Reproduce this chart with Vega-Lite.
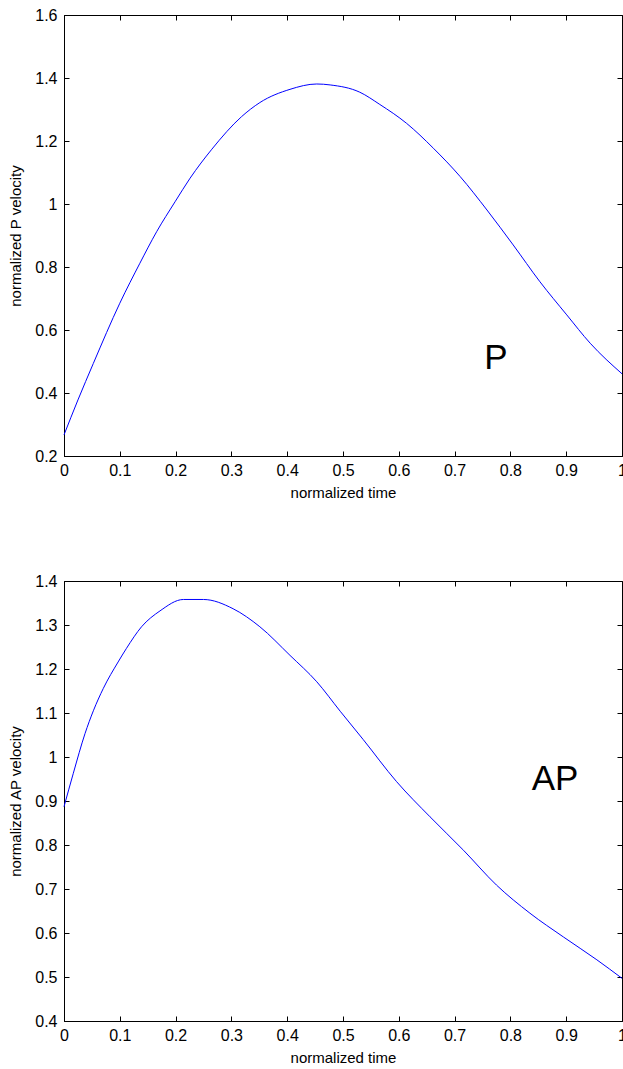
{
  "$schema": "https://vega.github.io/schema/vega-lite/v6.json",
  "background": "white",
  "padding": {"left": 8, "top": 6, "right": 0, "bottom": 0},
  "datasets": {
    "p": [
      {"t": 0, "v": 0.267}, {"t": 0.025, "v": 0.378}, {"t": 0.0526, "v": 0.494}, {"t": 0.1, "v": 0.685},
      {"t": 0.136, "v": 0.812}, {"t": 0.166, "v": 0.912}, {"t": 0.199, "v": 1.007}, {"t": 0.226, "v": 1.082},
      {"t": 0.265, "v": 1.174}, {"t": 0.318, "v": 1.277}, {"t": 0.351, "v": 1.322}, {"t": 0.405, "v": 1.364},
      {"t": 0.453, "v": 1.381}, {"t": 0.477, "v": 1.378}, {"t": 0.53, "v": 1.355}, {"t": 0.566, "v": 1.316},
      {"t": 0.614, "v": 1.256}, {"t": 0.662, "v": 1.177}, {"t": 0.71, "v": 1.087}, {"t": 0.758, "v": 0.981},
      {"t": 0.805, "v": 0.87}, {"t": 0.853, "v": 0.753}, {"t": 0.901, "v": 0.648}, {"t": 0.943, "v": 0.558},
      {"t": 1.0, "v": 0.461}
    ],
    "ap": [
      {"t": 0, "v": 0.887}, {"t": 0.0167, "v": 0.963}, {"t": 0.0376, "v": 1.053}, {"t": 0.0526, "v": 1.105},
      {"t": 0.0705, "v": 1.156}, {"t": 0.097, "v": 1.216}, {"t": 0.112, "v": 1.247}, {"t": 0.139, "v": 1.296},
      {"t": 0.172, "v": 1.332}, {"t": 0.214, "v": 1.358}, {"t": 0.25, "v": 1.358}, {"t": 0.303, "v": 1.337},
      {"t": 0.351, "v": 1.296}, {"t": 0.405, "v": 1.231}, {"t": 0.453, "v": 1.171}, {"t": 0.495, "v": 1.104},
      {"t": 0.536, "v": 1.04}, {"t": 0.596, "v": 0.944}, {"t": 0.656, "v": 0.864}, {"t": 0.716, "v": 0.788},
      {"t": 0.775, "v": 0.709}, {"t": 0.835, "v": 0.645}, {"t": 0.895, "v": 0.591}, {"t": 0.955, "v": 0.539},
      {"t": 1.0, "v": 0.497}
    ]
  },
  "spacing": 125,
  "bounds": "flush",
  "vconcat": [
    {
      "width": 558,
      "height": 441,
      "layer": [
        {
          "data": {"name": "p"},
          "mark": {"type": "line", "color": "#0000ff", "strokeWidth": 1, "interpolate": "monotone"},
          "encoding": {
            "x": {"field": "t", "type": "quantitative", "scale": {"domain": [0, 1], "nice": false},
                  "axis": {"orient": "bottom", "title": "normalized time", "titlePadding": 7, "labelPadding": 11, "values": [0, 0.1, 0.2, 0.3, 0.4, 0.5, 0.6, 0.7, 0.8, 0.9, 1], "format": "~g"}},
            "y": {"field": "v", "type": "quantitative", "scale": {"domain": [0.2, 1.6], "nice": false, "zero": false},
                  "axis": {"orient": "left", "title": "normalized P velocity", "titlePadding": 11, "labelPadding": 12, "values": [0.2, 0.4, 0.6, 0.8, 1, 1.2, 1.4, 1.6], "format": "~g"}}
          }
        },
        {
          "data": {"values": [{"t": 0.774, "v": 0.51, "label": "P"}]},
          "mark": {"type": "text", "font": "Liberation Sans", "fontSize": 35, "align": "center", "baseline": "middle", "color": "#000"},
          "encoding": {
            "x": {"field": "t", "type": "quantitative",
                  "axis": {"orient": "top", "title": null, "labels": false, "domain": false, "values": [0, 0.1, 0.2, 0.3, 0.4, 0.5, 0.6, 0.7, 0.8, 0.9, 1]}},
            "y": {"field": "v", "type": "quantitative",
                  "axis": {"orient": "right", "title": null, "labels": false, "domain": false, "values": [0.2, 0.4, 0.6, 0.8, 1, 1.2, 1.4, 1.6]}},
            "text": {"field": "label"}
          }
        }
      ],
      "resolve": {"axis": {"x": "independent", "y": "independent"}}
    },
    {
      "width": 558,
      "height": 440,
      "layer": [
        {
          "data": {"name": "ap"},
          "mark": {"type": "line", "color": "#0000ff", "strokeWidth": 1, "interpolate": "monotone"},
          "encoding": {
            "x": {"field": "t", "type": "quantitative", "scale": {"domain": [0, 1], "nice": false},
                  "axis": {"orient": "bottom", "title": "normalized time", "titlePadding": 7, "labelPadding": 11, "values": [0, 0.1, 0.2, 0.3, 0.4, 0.5, 0.6, 0.7, 0.8, 0.9, 1], "format": "~g"}},
            "y": {"field": "v", "type": "quantitative", "scale": {"domain": [0.4, 1.4], "nice": false, "zero": false},
                  "axis": {"orient": "left", "title": "normalized AP velocity", "titlePadding": 11, "labelPadding": 12, "values": [0.4, 0.5, 0.6, 0.7, 0.8, 0.9, 1, 1.1, 1.2, 1.3, 1.4], "format": "~g"}}
          }
        },
        {
          "data": {"values": [{"t": 0.88, "v": 0.95, "label": "AP"}]},
          "mark": {"type": "text", "font": "Liberation Sans", "fontSize": 35, "align": "center", "baseline": "middle", "color": "#000"},
          "encoding": {
            "x": {"field": "t", "type": "quantitative",
                  "axis": {"orient": "top", "title": null, "labels": false, "domain": false, "values": [0, 0.1, 0.2, 0.3, 0.4, 0.5, 0.6, 0.7, 0.8, 0.9, 1]}},
            "y": {"field": "v", "type": "quantitative",
                  "axis": {"orient": "right", "title": null, "labels": false, "domain": false, "values": [0.4, 0.5, 0.6, 0.7, 0.8, 0.9, 1, 1.1, 1.2, 1.3, 1.4]}},
            "text": {"field": "label"}
          }
        }
      ],
      "resolve": {"axis": {"x": "independent", "y": "independent"}}
    }
  ],
  "config": {
    "view": {"stroke": "#000", "strokeWidth": 1},
    "axis": {
      "grid": false,
      "domainColor": "#000",
      "tickColor": "#000",
      "tickSize": -5,
      "labelFont": "Liberation Sans",
      "labelFontSize": 16,
      "labelColor": "#000",
      "labelFlush": false,
      "labelOverlap": false,
      "titleFont": "Liberation Sans",
      "titleFontSize": 15,
      "titleFontWeight": "normal",
      "titleColor": "#000"
    }
  }
}
